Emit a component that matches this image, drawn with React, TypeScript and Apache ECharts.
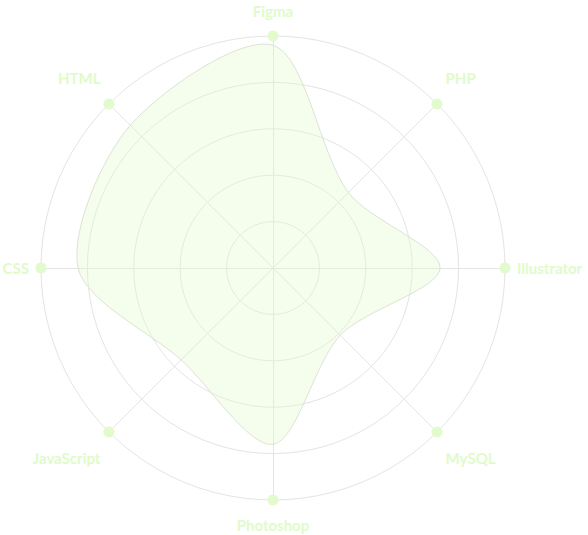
import React, { useEffect, useRef } from 'react';
import * as echarts from 'echarts';

// Skills, clockwise from the top
const skills = ['Figma', 'PHP', 'Illustrator', 'MySQL', 'Photoshop', 'JavaScript', 'CSS', 'HTML'];
const levels = [96, 46, 72, 41, 76, 56, 84, 87];
const maxLevel = 100;
const ringCount = 5;

export default function App() {
  const ref = useRef<HTMLDivElement>(null);

  useEffect(() => {
    const chart = echarts.init(ref.current as HTMLDivElement, null, { renderer: 'svg' });
    const n = skills.length;
    const step = 360 / n;
    // the radar component lays its indicators out counter-clockwise
    const ccwOrder = skills.map((_, i) => (n - i) % n);

    const labelColor = '#e0fbc9';
    const place: Record<string, string> = {};
    skills.forEach((s, i) => {
      const a = i * step;
      place[s] = a === 0 ? 'top' : a === 180 ? 'bottom' : a === 90 || a === 270 ? 'side' : a < 90 || a > 270 ? 'up' : 'down';
    });
    const font = { color: labelColor, fontFamily: 'Lato', fontWeight: 'bold' as const, fontSize: 15 };

    const center = [273, 268];
    const radius = 232;

    chart.setOption({
      animation: false,
      radar: {
        center,
        radius,
        shape: 'circle',
        startAngle: 90,
        splitNumber: ringCount,
        axisNameGap: 12,
        indicator: ccwOrder.map((i) => ({ name: skills[i], min: 0, max: maxLevel })),
        axisName: {
          ...font,
          formatter: (name: string) => `{${place[name]}|${name}}`,
          rich: {
            top: { ...font, padding: [0, 0, 6, 0] },
            bottom: { ...font, padding: [5, 0, 0, 0] },
            up: { ...font, padding: [0, 0, 34, 0] },
            down: { ...font, padding: [34, 0, 0, 0] },
            side: { ...font },
          },
        },
        splitLine: { lineStyle: { color: '#e4e4e4', width: 1 } },
        splitArea: { show: false },
        axisLine: { lineStyle: { color: '#e4e4e4', width: 1 } },
        axisTick: { show: false },
        axisLabel: { show: false },
      },
      polar: { center, radius },
      angleAxis: { type: 'value', min: 0, max: 360, startAngle: 90, clockwise: true, show: false },
      radiusAxis: { type: 'value', min: 0, max: maxLevel, show: false },
      series: [
        {
          type: 'custom',
          coordinateSystem: 'polar',
          silent: true,
          data: [[0, 0]],
          renderItem: (_params: any, api: any) => {
            const pts = levels.map((v, i) => api.coord([v, i * step]));
            return {
              type: 'polygon',
              shape: { points: pts, smooth: 0.3 },
              style: { fill: 'rgba(226,251,204,0.35)', stroke: '#dce3d6', lineWidth: 1 },
            };
          },
        },
        {
          type: 'radar',
          silent: true,
          z: 3,
          symbol: 'circle',
          symbolSize: 11,
          itemStyle: { color: '#e2fbcc' },
          lineStyle: { width: 0, opacity: 0 },
          data: [{ value: skills.map(() => maxLevel) }],
        },
      ],
    });

    return () => chart.dispose();
  }, []);

  return (
    <div
      ref={ref}
      style={{ position: 'absolute', left: 0, top: 0, width: 588, height: 535, background: '#ffffff' }}
    />
  );
}
